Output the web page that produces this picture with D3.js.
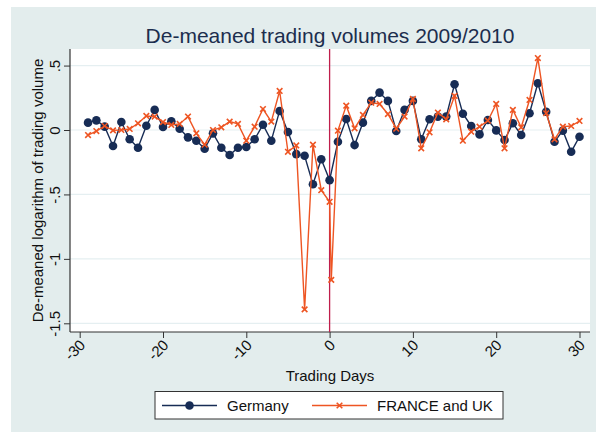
<!DOCTYPE html>
<html><head><meta charset="utf-8">
<script src="https://cdn.jsdelivr.net/npm/d3@7"></script>
<style>body{margin:0;background:#fff}svg{display:block}text{font-family:"Liberation Sans",Arial,sans-serif}</style>
</head><body><svg id="c" width="601" height="432"></svg>
<script>
const title = "De-meaned trading volumes 2009/2010";
const xTitle = "Trading Days";
const yTitle = "De-meaned logarithm of trading volume";
const seriesNames = ["Germany", "FRANCE and UK"];
const xTicks = [-30, -20, -10, 0, 10, 20, 30];
const yTicks = [0.5, 0, -0.5, -1, -1.5];
const yTickLabels = [".5", "0", "-.5", "-1", "-1.5"];
const eventDay = 0;

const germanyDays = d3.range(-29, 31);
const germanyVals = [0.057, 0.075, 0.026, -0.124, 0.062, -0.072, -0.138, 0.033, 0.156, 0.023,
  0.068, 0.010, -0.057, -0.083, -0.145, -0.026, -0.138, -0.194, -0.138, -0.132,
  -0.072, 0.041, -0.083, 0.148, -0.016, -0.187, -0.200, -0.421, -0.227, -0.389,
  -0.091, 0.085, -0.117, 0.057, 0.226, 0.290, 0.226, -0.008, 0.156, 0.226,
  -0.072, 0.083, 0.104, 0.104, 0.355, 0.126, 0.031, -0.034, 0.078, -0.003,
  -0.078, 0.052, -0.039, 0.130, 0.363, 0.142, -0.091, -0.005, -0.169, -0.052];

const frukDays = [-29,-28,-27,-26,-25,-24,-23,-22,-21,-20,-19,-18,-17,-16,-15,-14,-13,-12,-11,-10,
  -9,-8,-7,-6,-5,-4,-3,-2,-1,0,0.2,1,2,3,4,5,6,7,8,9,10,11,12,13,14,15,16,17,18,19,20,
  21,22,23,24,25,26,27,28,29,30];
const frukVals = [-0.039, -0.008, 0.031, -0.003, 0.000, 0.008, 0.052, 0.109, 0.104, 0.062,
  0.039, 0.047, 0.104, -0.026, -0.114, 0.000, 0.021, 0.065, 0.047, -0.083,
  0.026, 0.163, 0.065, 0.303, -0.169, -0.120, -1.392, -0.114, -0.467, -0.557, -1.163,
  -0.005, 0.189, 0.013, 0.117, 0.212, 0.202, 0.124, 0.010, 0.104, 0.241,
  -0.142, -0.018, 0.135, 0.083, 0.264, -0.083, -0.013, 0.026, 0.072, 0.202,
  -0.142, 0.156, 0.021, 0.233, 0.558, 0.130, -0.072, 0.026, 0.031, 0.070];

const navy = "#172c55", orange = "#ee5523", lineRed = "#bf1e4b";
const svg = d3.select("#c");
const P = {l: 70, r: 590, t: 49, b: 332};

svg.append("rect").attr("x", 11).attr("y", 7).attr("width", 585).attr("height", 425).attr("fill", "#e3eded");
svg.append("rect").attr("x", P.l).attr("y", P.t).attr("width", P.r - P.l).attr("height", P.b - P.t).attr("fill", "#fff");

const x = d3.scaleLinear().domain([-30, 30]).range([79.7, 579.5]);
const y = d3.scaleLinear().domain([0, -1.5]).range([130, 323.3]);

// gridlines
svg.append("g").selectAll("line").data(yTicks).join("line")
  .attr("x1", P.l).attr("x2", P.r).attr("y1", d => y(d)).attr("y2", d => y(d))
  .attr("stroke", "#e5eff1").attr("stroke-width", 1.2);

// axes
const yAxis = d3.axisLeft(y).tickValues(yTicks).tickSize(6).tickFormat((d, i) => yTickLabels[i]);
const gy = svg.append("g").attr("transform", `translate(${P.l},0)`).call(yAxis);
gy.select(".domain").remove();
gy.append("line").attr("x1", 0).attr("x2", 0).attr("y1", P.t).attr("y2", P.b).attr("stroke", "#333").attr("stroke-width", 1.2);
gy.selectAll(".tick line").attr("stroke", "#333");
gy.selectAll(".tick text").attr("x", null).attr("dy", null)
  .attr("transform", "translate(-10,0) rotate(-90)").attr("text-anchor", "middle")
  .attr("font-size", 15).attr("fill", "#111");

const xAxis = d3.axisBottom(x).tickValues(xTicks).tickSize(6).tickFormat(d => String(d));
const gx = svg.append("g").attr("transform", `translate(0,${P.b})`).call(xAxis);
gx.select(".domain").remove();
gx.append("line").attr("x1", P.l).attr("x2", P.r).attr("y1", 0).attr("y2", 0).attr("stroke", "#333").attr("stroke-width", 1.2);
gx.selectAll(".tick line").attr("stroke", "#333");
gx.selectAll(".tick text").attr("y", null).attr("dy", null)
  .attr("transform", "translate(6,14) rotate(-45)").attr("text-anchor", "end")
  .attr("font-size", 15).attr("fill", "#111");

// event line
svg.append("line").attr("x1", x(eventDay)).attr("x2", x(eventDay)).attr("y1", P.t).attr("y2", P.b)
  .attr("stroke", lineRed).attr("stroke-width", 1.3);

// series
const line = d3.line().x(d => x(d[0])).y(d => y(d[1]));
const gData = germanyDays.map((d, i) => [d, germanyVals[i]]);
const fData = frukDays.map((d, i) => [d, frukVals[i]]);

svg.append("path").datum(gData).attr("d", line).attr("fill", "none").attr("stroke", navy).attr("stroke-width", 1.4);
svg.append("g").selectAll("circle").data(gData).join("circle")
  .attr("cx", d => x(d[0])).attr("cy", d => y(d[1])).attr("r", 4.3).attr("fill", navy);

svg.append("path").datum(fData).attr("d", line).attr("fill", "none").attr("stroke", orange).attr("stroke-width", 1.4);
const xm = 2.8;
const gm = svg.append("g").selectAll("g").data(fData).join("g")
  .attr("transform", d => `translate(${x(d[0])},${y(d[1])})`);
gm.append("path").attr("d", `M${-xm},${-xm}L${xm},${xm}M${-xm},${xm}L${xm},${-xm}`)
  .attr("stroke", orange).attr("stroke-width", 1.6);

// titles
svg.append("text").attr("x", 330).attr("y", 43).attr("text-anchor", "middle")
  .attr("font-size", 21).attr("fill", "#1c2e4e").text(title);
svg.append("text").attr("x", 330).attr("y", 381).attr("text-anchor", "middle")
  .attr("font-size", 15).attr("fill", "#111").text(xTitle);
svg.append("text").attr("transform", `translate(43,${(P.t + P.b) / 2}) rotate(-90)`).attr("text-anchor", "middle")
  .attr("font-size", 15).attr("fill", "#111").text(yTitle);

// legend
const lg = svg.append("g");
lg.append("rect").attr("x", 155).attr("y", 391.5).attr("width", 348).attr("height", 27.5)
  .attr("fill", "#fff").attr("stroke", "#333").attr("stroke-width", 1);
const ly = 405.5;
lg.append("line").attr("x1", 162).attr("x2", 217).attr("y1", ly).attr("y2", ly).attr("stroke", navy).attr("stroke-width", 1.4);
lg.append("circle").attr("cx", 189.5).attr("cy", ly).attr("r", 4.3).attr("fill", navy);
lg.append("text").attr("x", 227).attr("y", ly + 5.5).attr("font-size", 15).attr("fill", "#111").text(seriesNames[0]);
lg.append("line").attr("x1", 312).attr("x2", 367).attr("y1", ly).attr("y2", ly).attr("stroke", orange).attr("stroke-width", 1.4);
lg.append("path").attr("transform", `translate(339.5,${ly})`).attr("d", `M${-xm},${-xm}L${xm},${xm}M${-xm},${xm}L${xm},${-xm}`)
  .attr("stroke", orange).attr("stroke-width", 1.6);
lg.append("text").attr("x", 377).attr("y", ly + 5.5).attr("font-size", 15).attr("fill", "#111").text(seriesNames[1]);
</script></body></html>
